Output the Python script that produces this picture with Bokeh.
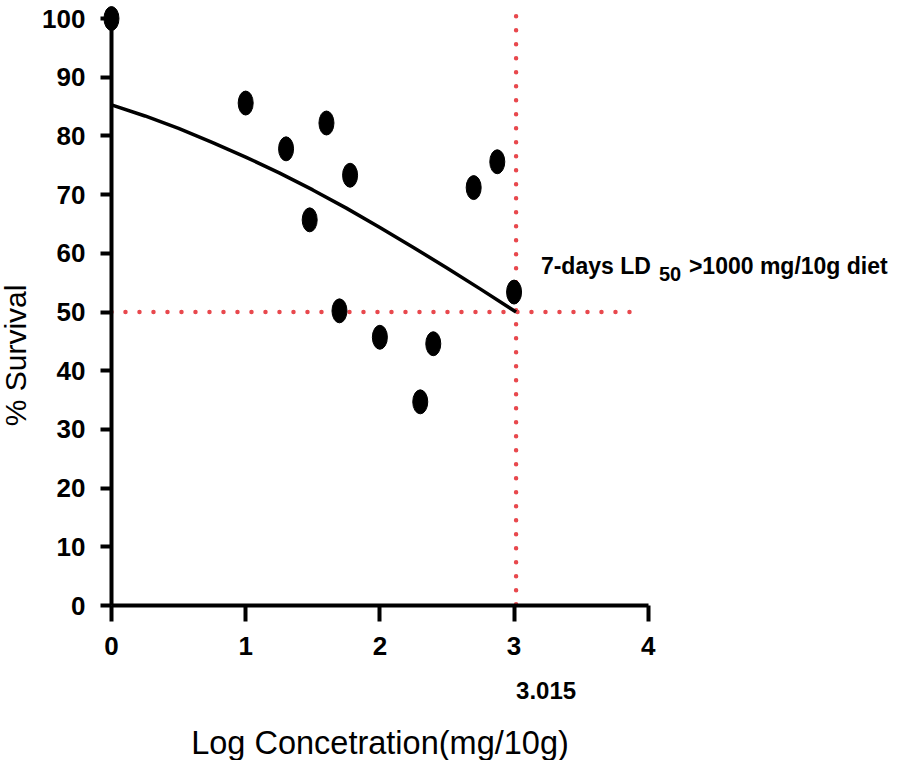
import math
from bokeh.plotting import figure
from bokeh.models import Range1d, Label, FixedTicker
from bokeh.embed import file_html
from bokeh.resources import INLINE

# ---- data ----
log_conc = [0.0, 1.0, 1.301, 1.477, 1.602, 1.699, 1.778, 2.0, 2.301, 2.398, 2.699, 2.875, 3.0]
survival = [100.0, 85.6, 77.8, 65.7, 82.2, 50.2, 73.3, 45.7, 34.7, 44.6, 71.2, 75.6, 53.4]

curve_x = [0.0, 0.25, 0.5, 0.75, 1.0, 1.25, 1.5, 1.75, 2.0, 2.25, 2.5, 2.75, 3.015]
curve_y = [85.3, 83.4, 81.3, 78.9, 76.4, 73.7, 70.8, 67.7, 64.4, 61.0, 57.5, 53.9, 50.0]

ld50 = 3.015
ld50_survival = 50
vline_y = [100.4, 0]
hline_x = [0, 3.9]

x_ticks = [0, 1, 2, 3, 4]
y_ticks = [0, 10, 20, 30, 40, 50, 60, 70, 80, 90, 100]

FONT = "Liberation Sans"
RED = "#e8484d"

p = figure(width=903, height=760, output_backend="svg", toolbar_location=None,
           x_range=Range1d(-0.827, 5.902), y_range=Range1d(-26.4, 103.07),
           min_border=0)
p.outline_line_color = None
p.grid.visible = False
p.background_fill_color = "white"
p.border_fill_color = "white"

for ax in (p.xaxis, p.yaxis):
    ax.fixed_location = 0
    ax.axis_line_width = 4
    ax.axis_line_color = "black"
    ax.major_tick_line_width = 4
    ax.major_tick_line_color = "black"
    ax.major_tick_in = 0
    ax.minor_tick_out = 0
    ax.minor_tick_in = 0
    ax.major_label_text_font = FONT
    ax.major_label_text_font_style = "bold"
    ax.major_label_text_font_size = "26px"
    ax.major_label_text_color = "black"

p.xaxis.ticker = FixedTicker(ticks=x_ticks)
p.xaxis.bounds = (0, 4)
p.xaxis.major_tick_out = 16
p.xaxis.major_label_standoff = 15
p.xaxis.axis_label = "Log Concetration(mg/10g)"
p.xaxis.axis_label_text_font = FONT
p.xaxis.axis_label_text_font_style = "normal"
p.xaxis.axis_label_text_font_size = "32.5px"
p.xaxis.axis_label_text_color = "black"
p.xaxis.axis_label_standoff = 67

p.yaxis.ticker = FixedTicker(ticks=y_ticks)
p.yaxis.bounds = (0, 100)
p.yaxis.major_tick_out = 11
p.yaxis.major_label_standoff = 15

# reference lines (dotted red)
p.line([ld50, ld50], vline_y, line_color=RED, line_width=4.5, line_dash="0 14", line_cap="round")
p.line(hline_x, [ld50_survival, ld50_survival], line_color=RED, line_width=4.5, line_dash="0 14", line_cap="round")

# fitted curve
p.line(curve_x, curve_y, line_color="black", line_width=3.5)

# data points
p.ellipse(log_conc, survival, width=15, height=24, width_units="screen", height_units="screen",
          fill_color="black", line_color="black")

# y axis title
p.add_layout(Label(x=-0.715, y=42.6, text="% Survival", angle=math.pi / 2,
                   text_align="center", text_baseline="middle",
                   text_font=FONT, text_font_size="30px", text_color="black"))

# LD50 value under the axis
p.add_layout(Label(x=ld50, y=-14.5, text=f"{ld50}", text_align="left", text_baseline="middle",
                   text_font=FONT, text_font_style="bold", text_font_size="24px", text_color="black"))

# annotation
p.add_layout(Label(x=3.2, y=57.9, text="7-days LD", text_align="left", text_baseline="alphabetic",
                   text_font=FONT, text_font_style="bold", text_font_size="23px", text_color="black"))
p.add_layout(Label(x=3.2, y=56.5, x_offset=118, text="50", text_align="left", text_baseline="alphabetic",
                   text_font=FONT, text_font_style="bold", text_font_size="20px", text_color="black"))
p.add_layout(Label(x=3.2, y=57.9, x_offset=148, text=">1000 mg/10g diet", text_align="left",
                   text_baseline="alphabetic",
                   text_font=FONT, text_font_style="bold", text_font_size="23px", text_color="black"))

open("out.html", "w").write(file_html(p, INLINE))
